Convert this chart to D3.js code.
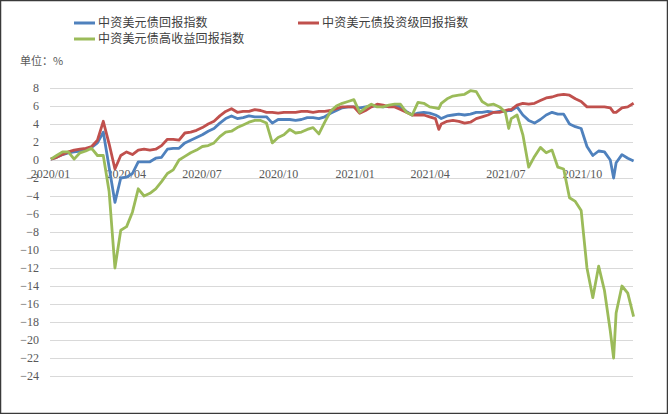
<!DOCTYPE html>
<html>
<head>
<meta charset="utf-8">
<script src="https://cdn.jsdelivr.net/npm/d3@7"></script>
<style>
  html, body { margin: 0; padding: 0; background: #fff; }
  svg { display: block; }
</style>
</head>
<body>
<svg id="chart" width="668" height="414"></svg>
<script>
// weekly observations, plus a few extra days where the lines turn sharply
const dates = [
  "2020-01-02","2020-01-09","2020-01-16","2020-01-23","2020-01-30","2020-02-06","2020-02-13","2020-02-20","2020-02-27","2020-03-05",
  "2020-03-12","2020-03-19","2020-03-26","2020-04-02","2020-04-09","2020-04-16","2020-04-23","2020-04-30","2020-05-07","2020-05-14",
  "2020-05-21","2020-05-28","2020-06-04","2020-06-11","2020-06-18","2020-06-25","2020-07-02","2020-07-09","2020-07-16","2020-07-23",
  "2020-07-30","2020-08-06","2020-08-13","2020-08-20","2020-08-27","2020-09-03","2020-09-10","2020-09-17","2020-09-24","2020-10-01",
  "2020-10-08","2020-10-15","2020-10-22","2020-10-29","2020-11-05","2020-11-12","2020-11-19","2020-11-26","2020-12-03","2020-12-10",
  "2020-12-17","2020-12-24","2020-12-31","2021-01-07","2021-01-14","2021-01-21","2021-01-28","2021-02-04","2021-02-11","2021-02-18",
  "2021-02-25","2021-03-04","2021-03-11","2021-03-18","2021-03-25","2021-04-01","2021-04-08","2021-04-12","2021-04-15","2021-04-22",
  "2021-04-29","2021-05-06","2021-05-13","2021-05-20","2021-05-27","2021-06-03","2021-06-10","2021-06-17","2021-06-24","2021-07-01",
  "2021-07-05","2021-07-08","2021-07-15","2021-07-22","2021-07-29","2021-08-05","2021-08-12","2021-08-19","2021-08-26","2021-09-02",
  "2021-09-09","2021-09-16","2021-09-23","2021-09-30","2021-10-07","2021-10-14","2021-10-21","2021-10-28","2021-11-04","2021-11-08",
  "2021-11-11","2021-11-18","2021-11-25","2021-12-02"
];

// 中资美元债回报指数
const totalIdx = [
  0.1,0.3,0.6,0.8,0.9,1.0,1.2,1.4,1.9,3.1,
  -0.8,-4.7,-2.0,-1.9,-1.5,-0.2,-0.2,-0.2,0.2,0.3,
  1.2,1.3,1.3,1.9,2.2,2.5,2.8,3.2,3.5,4.1,
  4.6,4.9,4.6,4.7,4.9,4.8,4.8,4.8,4.1,4.5,
  4.5,4.5,4.4,4.5,4.7,4.7,4.6,4.8,5.2,5.5,
  5.8,5.9,5.9,5.8,5.9,6.0,6.0,5.9,6.0,6.1,
  5.9,5.4,5.0,5.2,5.3,5.2,5.0,4.8,4.6,4.9,
  5.0,5.1,5.0,5.1,5.3,5.3,5.4,5.3,5.4,5.4,
  5.5,5.5,5.9,5.0,4.4,4.1,4.5,5.0,5.3,5.1,
  5.1,4.0,3.7,3.5,1.5,0.5,1.0,0.9,0.0,-2.0,
  -0.3,0.6,0.2,-0.1
];

// 中资美元债投资级回报指数
const igIdx = [
  0.1,0.3,0.6,0.9,1.1,1.2,1.3,1.5,2.2,4.3,
  1.8,-1.0,0.5,0.9,0.6,1.1,1.2,1.1,1.2,1.6,
  2.3,2.3,2.2,3.0,3.1,3.3,3.6,4.0,4.3,4.9,
  5.4,5.7,5.3,5.4,5.4,5.6,5.5,5.3,5.3,5.2,
  5.3,5.3,5.3,5.4,5.4,5.3,5.4,5.4,5.5,5.7,
  5.9,5.9,5.9,5.2,5.5,5.9,6.2,6.1,5.9,5.9,
  5.6,5.3,5.0,5.0,5.0,4.8,4.6,3.4,4.0,4.3,
  4.4,4.3,4.1,4.2,4.6,4.8,5.0,5.3,5.3,5.5,
  5.6,5.6,6.1,6.3,6.2,6.3,6.6,6.9,7.0,7.2,
  7.3,7.2,6.8,6.5,5.9,5.9,5.9,5.9,5.8,5.3,
  5.3,5.8,5.9,6.3
];

// 中资美元债高收益回报指数
const hyIdx = [
  0.1,0.5,0.9,0.9,0.1,0.8,1.0,1.3,0.5,0.5,
  -3.5,-12.0,-7.8,-7.4,-5.8,-3.2,-4.0,-3.7,-3.2,-2.4,
  -1.5,-1.1,0.0,0.4,0.8,1.1,1.5,1.6,1.9,2.6,
  3.1,3.2,3.6,3.9,4.2,4.4,4.4,4.1,1.9,2.5,
  2.8,3.4,3.0,3.1,3.4,3.6,2.9,4.2,5.4,6.0,
  6.3,6.5,6.7,5.3,5.8,6.2,5.9,5.9,6.1,6.2,
  6.2,5.3,5.0,6.4,6.3,5.9,5.8,5.7,6.3,6.8,
  7.1,7.2,7.3,7.7,7.6,6.5,6.1,6.2,5.9,5.3,
  3.5,4.6,5.0,2.8,-0.8,0.4,1.4,0.8,1.1,-0.8,
  -1.0,-4.2,-4.6,-5.6,-12.0,-15.3,-11.8,-14.5,-19.0,-22.0,
  -17.0,-14.0,-14.8,-17.4
];

const seriesNames = ["中资美元债回报指数", "中资美元债投资级回报指数", "中资美元债高收益回报指数"];
const seriesColors = ["#4f81bd", "#c0504d", "#9bbb59"];

const yTicks = [8, 6, 4, 2, 0, -2, -4, -6, -8, -10, -12, -14, -16, -18, -20, -22, -24];
const xTickDates = ["2020-01-01","2020-04-01","2020-07-01","2020-10-01","2021-01-01","2021-04-01","2021-07-01","2021-10-01"];
const xTickLabels = ["2020/01","2020/04","2020/07","2020/10","2021/01","2021/04","2021/07","2021/10"];

const parse = d3.timeParse("%Y-%m-%d");
const days = dates.map(parse);

const svg = d3.select("#chart");
const W = 668, H = 414;
const margin = { top: 88, right: 35, bottom: 38, left: 50 };

svg.append("rect")
    .attr("x", 0.5).attr("y", 0.5)
    .attr("width", W - 1).attr("height", H - 1)
    .attr("fill", "#fff")
    .attr("stroke", "#3a3a3a")
    .attr("stroke-width", 1.5);

let x = d3.scaleTime()
    .domain([parse("2020-01-01"), parse("2021-12-02")])
    .range([margin.left, W - margin.right + 0.6]);

let y = d3.scaleLinear()
    .domain([-24, 8])
    .range([H - margin.bottom, margin.top]);

// gridlines
svg.append("g")
    .selectAll("line")
    .data(yTicks)
    .join("line")
    .attr("x1", margin.left)
    .attr("x2", W - margin.right)
    .attr("y1", d => Math.round(y(d)) + 0.5)
    .attr("y2", d => Math.round(y(d)) + 0.5)
    .attr("stroke", "#d9d9d9")
    .attr("stroke-width", 1);

// y axis labels
let yAxis = g => g
    .attr("transform", `translate(${margin.left},0)`)
    .call(d3.axisLeft(y).tickValues(yTicks).tickSize(0).tickPadding(11).tickFormat(d3.format("d")))
    .call(g => g.select(".domain").remove())
    .call(g => g.selectAll("text")
        .attr("fill", "#595959")
        .style("font-family", "'Liberation Serif', 'DejaVu Serif', serif")
        .style("font-size", "12px"));

svg.append("g").call(yAxis);

// x axis labels sit under the zero line
const xTickMap = new Map(xTickDates.map((d, i) => [+parse(d), xTickLabels[i]]));
let xAxis = g => g
    .attr("transform", `translate(0,${y(0)})`)
    .call(d3.axisBottom(x).tickValues(xTickDates.map(parse)).tickSize(0).tickPadding(9)
        .tickFormat(d => xTickMap.get(+d)))
    .call(g => g.select(".domain").remove())
    .call(g => g.selectAll("text")
        .attr("fill", "#595959")
        .style("font-family", "'Liberation Serif', 'DejaVu Serif', serif")
        .style("font-size", "12px"));

svg.append("g").call(xAxis);

// lines
const allSeries = [totalIdx, igIdx, hyIdx];
const line = d3.line()
    .x((d, i) => x(days[i]))
    .y(d => y(d));

svg.append("g")
    .selectAll("path")
    .data(allSeries)
    .join("path")
    .attr("d", d => line(d))
    .attr("fill", "none")
    .attr("stroke", (d, i) => seriesColors[i])
    .attr("stroke-width", 2.8)
    .attr("stroke-linejoin", "round");

// legend
const legendPos = [
    { x: 74, y: 23 },
    { x: 298, y: 23 },
    { x: 74, y: 39 }
];

const legend = svg.append("g")
    .selectAll("g")
    .data(seriesNames)
    .join("g")
    .attr("transform", (d, i) => `translate(${legendPos[i].x},${legendPos[i].y})`);

legend.append("line")
    .attr("x1", 0).attr("x2", 21)
    .attr("y1", 0).attr("y2", 0)
    .attr("stroke", (d, i) => seriesColors[i])
    .attr("stroke-width", 3);

legend.append("text")
    .attr("x", 24)
    .attr("y", 0)
    .attr("dy", "0.36em")
    .attr("fill", "#404040")
    .style("font-family", "'Noto Sans CJK SC', sans-serif")
    .style("font-size", "12px")
    .style("letter-spacing", "0.2px")
    .text(d => d);

svg.append("text")
    .attr("x", 20)
    .attr("y", 61)
    .attr("dy", "0.36em")
    .attr("fill", "#595959")
    .style("font-family", "'Noto Sans CJK SC', sans-serif")
    .style("font-size", "11px")
    .text("单位：%");
</script>
</body>
</html>
